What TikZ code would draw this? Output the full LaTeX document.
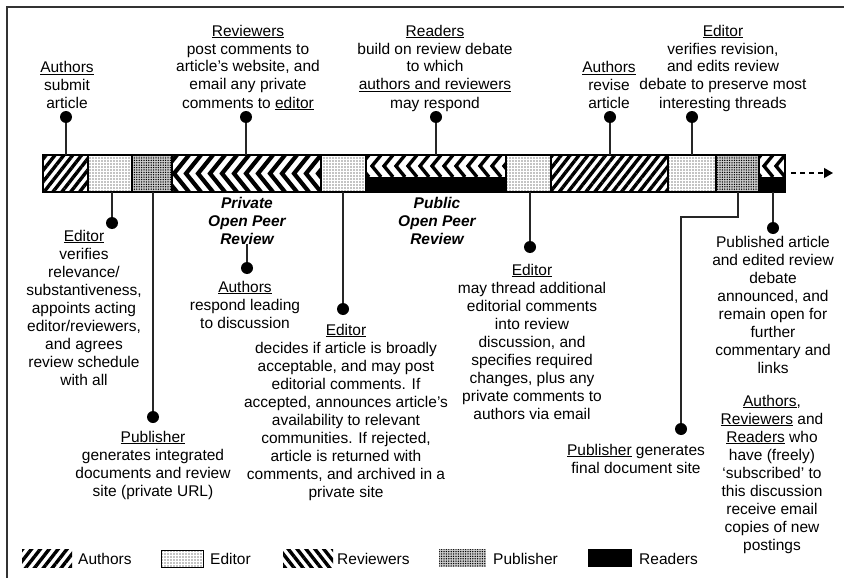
\documentclass[tikz,border=0pt]{standalone}
\usepackage{fontspec}
\setmainfont{Liberation Sans}
\usetikzlibrary{patterns,patterns.meta,arrows.meta}
\newcommand\myul[1]{\underline{#1}}
\begin{document}
\begin{tikzpicture}[x=1pt,y=-1pt,
  txt/.style={align=center,inner sep=0pt,anchor=base,font=\fontsize{15.5}{18}\selectfont},
  conn/.style={line width=1.2pt,black!85},
  dotc/.style={circle,fill=black,inner sep=0pt,minimum size=12pt},
  seg/.style={draw=black,line width=1.3pt},
  authpat/.style={pattern={Lines[angle=52,distance=7pt,line width=3.4pt]}},
  revpat/.style={pattern={Lines[angle=-52,distance=7pt,line width=3.4pt]}},
  edpat/.style={pattern={Dots[distance=3pt,radius=0.7pt]}},
  pubpat/.style={fill=gray!40,postaction={pattern={Dots[distance=2.4pt,radius=0.75pt]}}},
  chev/.style={line width=4.2pt,line join=miter},
  chevs/.style={line width=3.4pt,line join=miter}]
\useasboundingbox (0,0) rectangle (844,578);
\fill[white] (0,0) rectangle (844,578);
\draw[line width=1.6pt,black!80] (7,578) -- (7,7) -- (844,7);

% ---- bar segments ----
\path[authpat] (43,155) rectangle (88,192);
\path[edpat] (88,155) rectangle (132,192);
\path[pubpat] (132,155) rectangle (172,192);
\begin{scope}
  \clip (172,155) rectangle (321,192);
  \foreach \x in {162,174,...,330} \draw[chev] (\x+15,155) -- (\x,173.5) -- (\x+15,192);
\end{scope}
\path[edpat] (321,155) rectangle (366,192);
\begin{scope}
  \clip (366,155) rectangle (506,177);
  \foreach \x in {360,372,...,510} \draw[chevs] (\x+9,155) -- (\x,166) -- (\x+9,177);
\end{scope}
\fill[black] (366,177) rectangle (506,192);
\path[edpat] (506,155) rectangle (551,192);
\path[authpat] (551,155) rectangle (668,192);
\path[edpat] (668,155) rectangle (716,192);
\path[pubpat] (716,155) rectangle (759,192);
\begin{scope}
  \clip (759,155) rectangle (785,177);
  \foreach \x in {752,764,776} \draw[chevs] (\x+9,155) -- (\x,166) -- (\x+9,177);
\end{scope}
\fill[black] (759,177) rectangle (785,192);
\foreach \a/\b in {43/88,88/132,132/172,172/321,321/366,366/506,506/551,551/668,668/716,716/759,759/785}
  \draw[seg] (\a,155) rectangle (\b,192);

% dashed arrow
\coordinate (as) at (791,173);
\coordinate (ae) at (833,173);
\draw[line width=1.2pt,dash pattern=on 5pt off 4pt,-{Triangle[length=9pt,width=10pt]}] (as) -- (ae);

% ---- attachment points on bar ----
\coordinate (t1) at (66,155);
\coordinate (t2) at (246,155);
\coordinate (t3) at (436,155);
\coordinate (t4) at (610,155);
\coordinate (t5) at (692,155);
\coordinate (b6) at (112,192);
\coordinate (b7) at (153,192);
\coordinate (b9) at (343,192);
\coordinate (b10) at (530,192);
\coordinate (b11) at (738,192);
\coordinate (k11a) at (738,217);
\coordinate (k11b) at (681,217);
\coordinate (b12) at (773,192);

% ---- dots ----
\node[dotc] (d1) at (66,117) {};
\node[dotc] (d2) at (246,117) {};
\node[dotc] (d3) at (436,117) {};
\node[dotc] (d4) at (610,117) {};
\node[dotc] (d5) at (692,117) {};
\node[dotc] (d6) at (112,223) {};
\node[dotc] (d7) at (153,417) {};
\node[dotc] (d8) at (247,268) {};
\node[dotc] (d9) at (343,309) {};
\node[dotc] (d10) at (530,247) {};
\node[dotc] (d11) at (681,429) {};
\node[dotc] (d12) at (773,228) {};

% ---- texts above (anchor = baseline of last line) ----
\node[txt] (A) at (67,109) {\myul{Authors}\\submit\\article};
\node[txt] (B) at (248,108) {\myul{Reviewers}\\post comments to\\article's website, and\\email any private\\comments to \myul{editor}};
\node[txt] (C) at (435,108) {\myul{Readers}\\build on review debate\\to which\\\myul{authors and reviewers}\\may respond};
\node[txt] (D) at (609,109) {\myul{Authors}\\revise\\article};
\node[txt] (E) at (723,108) {\myul{Editor}\\verifies revision,\\and edits review\\debate to preserve most\\interesting threads};

% ---- texts below ----
\node[txt] (F) at (84,385) {\myul{Editor}\\verifies\\relevance/\\substantiveness,\\appoints acting\\editor/reviewers,\\and agrees\\review schedule\\with all};
\node[txt] (G) at (153,496) {\myul{Publisher}\\generates integrated\\documents and review\\site (private URL)};
\node[txt,font=\fontsize{15.5}{18}\selectfont\bfseries\itshape] (H) at (247,244) {Private\\Open Peer\\Review};
\node[txt] (I) at (245,328) {\myul{Authors}\\respond leading\\to discussion};
\node[txt] (J) at (346,497) {\myul{Editor}\\decides if article is broadly\\acceptable, and may post\\editorial comments. If\\accepted, announces article's\\availability to relevant\\communities. If rejected,\\article is returned with\\comments, and archived in a\\private site};
\node[txt,font=\fontsize{15.5}{18}\selectfont\bfseries\itshape] (K) at (437,244) {Public\\Open Peer\\Review};
\node[txt] (L) at (532,419) {\myul{Editor}\\may thread additional\\editorial comments\\into review\\discussion, and\\specifies required\\changes, plus any\\private comments to\\authors via email};
\node[txt] (M) at (636,473) {\myul{Publisher} generates\\final document site};
\node[txt] (N) at (773,373) {Published article\\and edited review\\debate\\announced, and\\remain open for\\further\\commentary and\\links};
\node[txt] (O) at (772,550) {\myul{Authors},\\\myul{Reviewers} and\\\myul{Readers} who\\have (freely)\\`subscribed' to\\this discussion\\receive email\\copies of new\\postings};

% ---- connectors ----
\draw[conn] (t1) -- (d1);
\draw[conn] (t2) -- (d2);
\draw[conn] (t3) -- (d3);
\draw[conn] (t4) -- (d4);
\draw[conn] (t5) -- (d5);
\draw[conn] (b6) -- (d6);
\draw[conn] (b7) -- (d7);
\draw[conn] (H.south) -- (d8);
\draw[conn] (b9) -- (d9);
\draw[conn] (b10) -- (d10);
\draw[conn] (b11) -- (k11a) -- (k11b) -- (d11);
\draw[conn] (b12) -- (d12);

% ---- legend ----
\path[authpat] (22,549) rectangle (72,567);
\node[txt,anchor=base west] (LA) at (78,564) {Authors};
\path[edpat,draw=black,line width=0.8pt] (161,550) rectangle (203,567);
\node[txt,anchor=base west] (LE) at (210,564) {Editor};
\path[revpat] (283,549) rectangle (333,567);
\node[txt,anchor=base west] (LR) at (337,564) {Reviewers};
\path[pubpat] (439,549) rectangle (486,567);
\node[txt,anchor=base west] (LP) at (493,564) {Publisher};
\fill[black] (588,549) rectangle (632,567);
\node[txt,anchor=base west] (LRd) at (639,564) {Readers};
\end{tikzpicture}
\end{document}
